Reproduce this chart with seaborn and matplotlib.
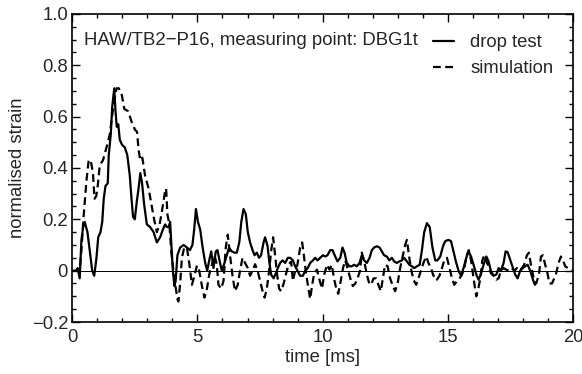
"""Normalised strain: drop test vs simulation"""

import numpy as np
import pandas as pd
import seaborn as sns
import matplotlib
matplotlib.use("Agg")
import matplotlib.pyplot as plt
from matplotlib.ticker import MultipleLocator, FuncFormatter

# data

t_drop = [0.15, 0.22, 0.3, 0.37, 0.44, 0.5, 0.61, 0.7, 0.8, 0.88, 0.97, 1.04, 1.13, 1.2, 1.26,
          1.33, 1.42, 1.46, 1.54, 1.6, 1.68, 1.73, 1.78, 1.84, 1.9, 1.99, 2.1, 2.2, 2.3, 2.36,
          2.43, 2.5, 2.58, 2.65, 2.72, 2.79, 2.87, 2.98, 3.11, 3.25, 3.38, 3.51, 3.62, 3.71, 3.78,
          3.85, 3.91, 3.96, 4.02, 4.08, 4.13, 4.2, 4.31, 4.45, 4.58, 4.7, 4.8, 4.87, 4.94, 5.02,
          5.11, 5.2, 5.31, 5.39, 5.47, 5.55, 5.64, 5.73, 5.8, 5.88, 5.97, 6.08, 6.17, 6.26, 6.37,
          6.48, 6.57, 6.67, 6.75, 6.84, 6.93, 7.01, 7.1, 7.2, 7.28, 7.37, 7.46, 7.54, 7.64, 7.7,
          7.8, 7.86, 7.94, 8.04, 8.13, 8.21, 8.3, 8.4, 8.5, 8.61, 8.7, 8.81, 8.9, 8.99, 9.1,
          9.21, 9.3, 9.4, 9.5, 9.61, 9.7, 9.79, 9.9, 10.01, 10.1, 10.19, 10.3, 10.39, 10.5, 10.59,
          10.7, 10.79, 10.87, 10.96, 11.07, 11.16, 11.25, 11.36, 11.47, 11.56, 11.65, 11.76, 11.87,
          11.96, 12.05, 12.16, 12.27, 12.36, 12.45, 12.56, 12.66, 12.76, 12.85, 12.96, 13.06, 13.16,
          13.25, 13.36, 13.46, 13.56, 13.65, 13.76, 13.87, 13.96, 14.05, 14.16, 14.27, 14.38, 14.49,
          14.58, 14.69, 14.8, 14.89, 15.02, 15.12, 15.22, 15.33, 15.42, 15.52, 15.62, 15.73, 15.82,
          15.92, 16.02, 16.13, 16.22, 16.31, 16.42, 16.53, 16.62, 16.71, 16.82, 16.93, 17.02, 17.11,
          17.22, 17.3, 17.38, 17.49, 17.59, 17.68, 17.78, 17.88, 17.99, 18.08, 18.18, 18.28, 18.39,
          18.47]
v_drop = [0.0, 0.01, -0.03, 0.12, 0.17, 0.19, 0.15, 0.08, 0.0, -0.02, 0.05, 0.13, 0.15, 0.19, 0.28,
          0.33, 0.34, 0.45, 0.53, 0.64, 0.71, 0.62, 0.56, 0.57, 0.51, 0.49, 0.48, 0.45, 0.37, 0.29,
          0.21, 0.2, 0.27, 0.32, 0.38, 0.34, 0.26, 0.18, 0.17, 0.15, 0.11, 0.13, 0.16, 0.18, 0.17,
          0.17, 0.19, 0.10, 0.0, -0.06, -0.04, 0.06, 0.09, 0.10, 0.09, 0.08, 0.1, 0.16, 0.24, 0.19,
          0.16, 0.095, 0.03, 0.0, 0.04, 0.075, 0.01, 0.075, 0.08, 0.04, 0.0, 0.03, 0.06, 0.09, 0.075,
          0.07, 0.07, 0.11, 0.19, 0.24, 0.22, 0.15, 0.11, 0.08, 0.06, 0.07, 0.05, 0.06, 0.11, 0.13,
          0.095, 0.04, -0.015, -0.03, -0.01, 0.01, 0.03, 0.04, 0.03, 0.05, 0.05, 0.04, 0.017, 0.0, -0.02,
          -0.02, 0.0, 0.01, 0.03, 0.04, 0.05, 0.04, 0.05, 0.06, 0.055, 0.06, 0.08, 0.08, 0.055, 0.036,
          0.05, 0.09, 0.07, 0.03, 0.017, 0.017, 0.023, 0.017, 0.03, 0.06, 0.04, 0.03, 0.05,
          0.08, 0.09, 0.095, 0.09, 0.075, 0.06, 0.055, 0.04, 0.05, 0.036, 0.03, 0.036, 0.04,
          0.05, 0.036, 0.023, 0.017, 0.01, 0.017, 0.023, 0.08, 0.15, 0.185, 0.17, 0.09, 0.04,
          0.04, 0.055, 0.095, 0.115, 0.12, 0.115, 0.075, 0.03, 0.0, -0.02, 0.01, 0.05, 0.075,
          0.055, 0.023, -0.015, -0.035, -0.015, 0.023, 0.055, 0.036, 0.0, -0.02, -0.015, 0.01, 0.0,
          0.03, 0.075, 0.072, 0.04, 0.01, -0.015, -0.03, 0.0, 0.01, 0.017, 0.023, 0.0, -0.035,
          -0.055]

t_sim = [0.0, 0.3, 0.37, 0.44, 0.57, 0.66, 0.74, 0.83, 0.89, 0.96, 1.02, 1.1, 1.23, 1.37, 1.5,
         1.63, 1.77, 1.86, 1.97, 2.08, 2.24, 2.37, 2.5, 2.59, 2.65, 2.72, 2.8, 2.91, 3.05, 3.14,
         3.27, 3.38, 3.49, 3.58, 3.71, 3.75, 3.8, 3.88, 3.96, 4.04, 4.11, 4.2, 4.24, 4.31, 4.38,
         4.47, 4.58, 4.67, 4.78, 4.88, 4.98, 5.07, 5.18, 5.28, 5.38, 5.47, 5.58, 5.68, 5.77, 5.84,
         5.95, 6.04, 6.13, 6.21, 6.3, 6.4, 6.5, 6.61, 6.7, 6.8, 6.9, 7.01, 7.1, 7.2, 7.3, 7.4,
         7.5, 7.6, 7.68, 7.77, 7.86, 7.94, 8.02, 8.1, 8.18, 8.26, 8.34, 8.44, 8.53, 8.64, 8.74,
         8.81, 8.9, 8.99, 9.1, 9.18, 9.26, 9.34, 9.43, 9.5, 9.58, 9.66, 9.77, 9.87, 9.97, 10.06,
         10.17, 10.27, 10.36, 10.46, 10.54, 10.62, 10.7, 10.81, 10.9, 10.99, 11.1, 11.2, 11.3,
         11.39, 11.49, 11.56, 11.65, 11.76, 11.87, 11.95, 12.03, 12.13, 12.24, 12.32, 12.4, 12.49,
         12.59, 12.69, 12.8, 12.89, 12.99, 13.09, 13.2, 13.29, 13.36, 13.44, 13.52, 13.62, 13.73,
         13.82, 13.92, 14.02, 14.13, 14.22, 14.32, 14.42, 14.5, 14.56, 14.66, 14.76, 14.85, 14.96,
         15.06, 15.16, 15.25, 15.36, 15.46, 15.56, 15.65, 15.75, 15.83, 15.92, 16.0, 16.08, 16.13,
         16.21, 16.29, 16.37, 16.45, 16.53, 16.62, 16.71, 16.82, 16.93, 17.02, 17.11, 17.22, 17.32,
         17.43, 17.54, 17.65, 17.75, 17.86, 17.95, 18.04, 18.15, 18.23, 18.31, 18.42, 18.52, 18.63,
         18.71, 18.79, 18.88, 18.97, 19.05, 19.15, 19.24, 19.32, 19.41, 19.51, 19.59, 19.68, 19.78,
         19.89, 20.0]
v_sim = [0.0, 0.0, 0.08, 0.19, 0.35, 0.43, 0.43, 0.38, 0.28, 0.29, 0.33, 0.41, 0.43, 0.48, 0.53,
         0.63, 0.71, 0.71, 0.69, 0.63, 0.62, 0.58, 0.55, 0.54, 0.47, 0.43, 0.44, 0.37, 0.32, 0.27,
         0.2, 0.15, 0.18, 0.23, 0.31, 0.32, 0.22, 0.18, 0.07, 0.0, -0.05, -0.11, -0.12, -0.05, 0.05,
         0.09, 0.09, 0.03, -0.055, -0.02, 0.02, 0.0, -0.06, -0.105, -0.07, -0.015, 0.025, 0.06, 0.025, -0.055,
         -0.07, -0.04, 0.09, 0.14, 0.06, -0.02, -0.08, -0.055, 0.0, 0.05, 0.03, 0.01, -0.02, 0.0, 0.025, 0.0,
         -0.04, -0.08, -0.105, -0.07, 0.0, 0.075, 0.13, 0.06, -0.015, -0.07, -0.08, -0.05, -0.015, 0.025, 0.035,
         -0.04, 0.0, 0.023, 0.09, 0.11, 0.05, -0.015, -0.07, -0.11, -0.055, -0.01, 0.004, -0.035, -0.07, -0.015,
         0.023, 0.004, 0.023, -0.035, -0.07, -0.09, -0.05, 0.01, 0.04, 0.01, -0.03, -0.06, -0.05,
         -0.03, 0.0, 0.07, 0.04, -0.015, -0.055, -0.05, -0.03, -0.03, -0.06, -0.08, -0.03, 0.023,
         0.017, -0.03, -0.06, -0.08, -0.05, 0.01, 0.06, 0.10, 0.12, 0.06, 0.01, -0.035, -0.055,
         -0.03, 0.0, 0.03, 0.055, 0.03, 0.01, -0.02, -0.02, -0.035, -0.02, 0.01, 0.04, 0.05,
         0.01, -0.03, -0.055, -0.04, -0.03, -0.015, 0.01, 0.06, 0.08, 0.04, -0.015, -0.07, -0.1,
         -0.07, -0.03, 0.04, 0.06, 0.036, 0.017, -0.01, -0.02, -0.035, -0.03, 0.0, 0.01, 0.004,
         0.0, 0.01, 0.0, 0.01, 0.0, 0.01, 0.023, 0.06, 0.07, 0.023, -0.03, -0.05, -0.015,
         0.055, 0.06, 0.023, -0.01, -0.05, -0.05, -0.03, -0.01, 0.03, 0.055, 0.04, 0.017, 0.01,
         0.004, 0.0]

df = pd.concat([
    pd.DataFrame({"time": t_drop, "strain": v_drop, "source": "drop test"}),
    pd.DataFrame({"time": t_sim, "strain": v_sim, "source": "simulation"}),
])

# figure

sns.set_style("ticks")
plt.rcParams["font.family"] = ["Liberation Sans", "DejaVu Sans"]
fs = 13.3

fig = plt.figure(figsize=(5.82, 3.74), dpi=100)
ax = fig.add_axes([0.124, 0.139, 0.861, 0.824])

ax.axhline(0, color="black", lw=0.7, zorder=1)
sns.lineplot(data=df, x="time", y="strain", hue="source", style="source",
             palette=["black", "black"], dashes={"drop test": "", "simulation": (3.5, 2)},
             lw=1.6, sort=False, estimator=None, ax=ax)

ax.set_xlim(0, 20)
ax.set_ylim(-0.2, 1.0)
ax.xaxis.set_major_locator(MultipleLocator(5))
ax.xaxis.set_minor_locator(MultipleLocator(1))
ax.yaxis.set_major_locator(MultipleLocator(0.2))
ax.yaxis.set_minor_locator(MultipleLocator(0.05))
ax.yaxis.set_major_formatter(FuncFormatter(
    lambda v, p: "0" if abs(v) < 1e-9 else f"{v:.1f}".replace("-", "\u2212")))
ax.tick_params(which="both", direction="in", top=True, right=True, labelsize=fs,
               color="black")
ax.tick_params(axis="x", which="major", pad=5)
ax.tick_params(axis="y", which="major", pad=3)
ax.tick_params(which="major", length=6, width=1)
ax.tick_params(which="minor", length=3, width=1)
for s in ax.spines.values():
    s.set_linewidth(1.2)
    s.set_color("black")

ax.set_xlabel("time [ms]", fontsize=fs, labelpad=2)
ax.set_ylabel("normalised strain", fontsize=fs, labelpad=4)

ax.text(0.024, 0.912, "HAW/TB2\u2212P16, measuring point: DBG1t", transform=ax.transAxes,
        fontsize=13.4, va="center")
handles, labels = ax.get_legend_handles_labels()
ax.legend(handles, labels, loc="upper right", bbox_to_anchor=(0.975, 0.958), frameon=False,
          fontsize=fs, handlelength=1.1, handletextpad=0.9, labelspacing=0.5, borderpad=0.2,
          borderaxespad=0.2)

plt.savefig("out.png", dpi=100)
